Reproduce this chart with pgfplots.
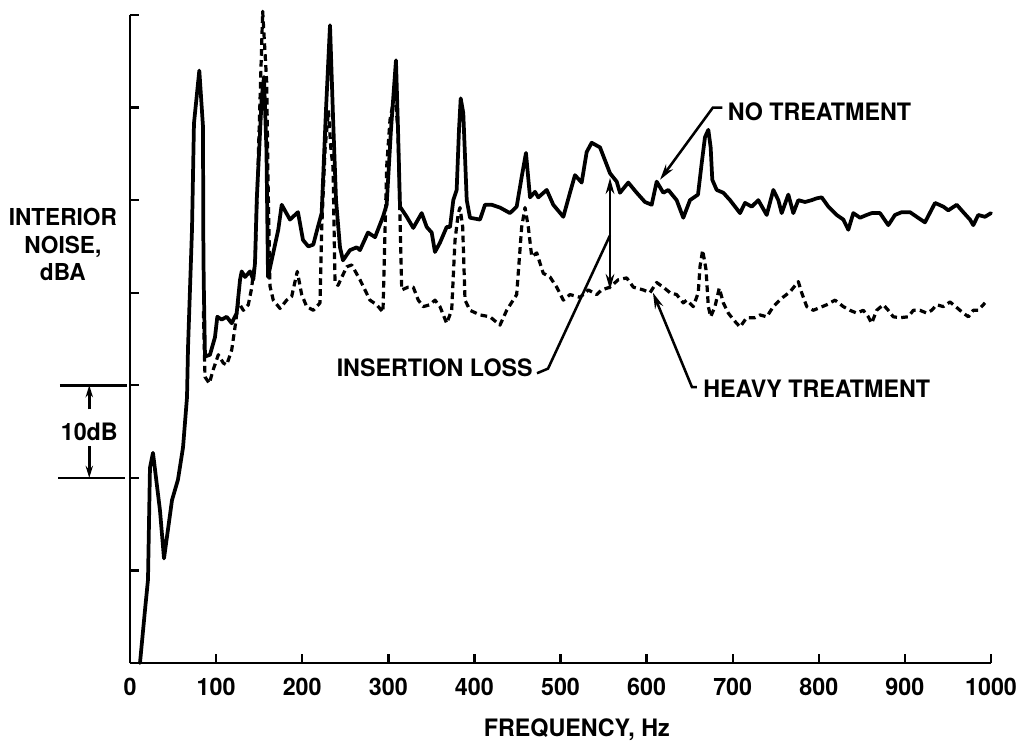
\documentclass[border=0pt]{standalone}
\usepackage{fontspec}
\setmainfont{TeX Gyre Heros}[FakeStretch=0.97]
\usepackage{pgfplots}
\pgfplotsset{compat=1.18}
\usetikzlibrary{arrows.meta}
\newcommand{\lab}{\bfseries\fontsize{18}{21}\selectfont}
\begin{document}
\begin{tikzpicture}
\path[use as bounding box] (-97.5pt,-60pt) rectangle (666pt,497.25pt);
\begin{axis}[
  at={(0,0)}, anchor=south west,
  scale only axis, width=645.75pt, height=486pt,
  xmin=0, xmax=1000, ymin=0, ymax=70, enlargelimits=false,
  axis lines*=left,
  axis line style={line width=2pt},
  tick align=inside,
  major tick length=7pt,
  tick style={line width=1.8pt, black},
  xtick={0,100,...,1000},
  ytick={0,10,...,70},
  yticklabels={},
  /pgf/number format/assume math mode=true,
  /pgf/number format/1000 sep={},
  xticklabel style={font=\lab, anchor=base, yshift=-24pt},
  clip=false,
]
\addplot[black, line width=2.8pt, line join=round, line cap=round] coordinates {
(11.6,0.0)(17.4,5.7)(20.9,9.0)(23.2,21.1)(26.7,22.7)(34.8,16.5)(39.5,11.3)(48.8,17.6)(55.7,19.8)(61.6,23.3)(66.2,28.7)(67.4,34.1)(72.0,46.8)(74.3,58.3)(80.5,64.0)(84.8,57.9)(85.1,46.8)(85.6,41.4)(87.1,33.1)(92.9,33.3)(98.7,35.2)(101.4,37.4)(106.5,37.1)(112.3,37.4)(118.1,36.7)(123.9,37.8)(127.8,41.4)(129.7,42.3)(133.6,41.7)(139.4,42.3)(143.2,41.4)(145.2,43.2)(147.2,50.0)(153.0,61.1)(155.6,63.3)(158.5,55.4)(160.3,41.7)(172.2,46.8)(176.2,49.5)(185.8,47.9)(195.1,48.7)(200.9,45.7)(207.1,45.0)(212.9,45.2)(216.8,46.6)(222.6,48.6)(227.6,59.7)(232.3,68.9)(235.8,59.0)(239.3,50.0)(243.9,44.9)(247.4,43.5)(255.5,44.6)(263.3,44.9)(267.1,44.6)(276.4,46.5)(284.6,46.0)(293.8,48.2)(298.1,49.5)(303.1,57.6)(308.9,65.1)(311.3,57.6)(313.6,49.3)(321.4,48.2)(329.0,47.0)(338.8,48.6)(344.6,47.1)(350.4,46.5)(354.2,44.4)(360.0,45.4)(367.8,47.1)(371.7,47.1)(375.5,50.0)(379.4,51.1)(382.1,57.6)(384.1,61.0)(387.1,59.4)(391.1,50.0)(394.9,48.1)(406.5,47.9)(412.3,49.5)(420.1,49.5)(429.7,49.2)(441.3,48.6)(449.1,49.3)(454.9,52.5)(459.9,55.1)(464.6,50.3)(470.4,50.9)(474.2,50.3)(484.0,51.1)(491.6,49.5)(503.3,48.2)(511.0,50.8)(516.8,52.7)(524.6,51.9)(530.4,55.2)(536.2,56.2)(545.9,55.7)(557.5,52.9)(565.3,52.0)(569.1,50.8)(578.7,51.9)(588.5,50.8)(598.1,49.8)(605.9,49.5)(611.7,52.0)(619.4,50.8)(625.2,51.1)(634.9,50.0)(642.6,48.1)(650.4,50.0)(659.7,50.6)(664.0,54.0)(667.8,56.8)(671.7,57.6)(674.4,55.7)(676.3,52.2)(681.4,51.1)(689.1,50.8)(696.9,50.0)(702.7,49.3)(708.5,48.6)(714.3,49.7)(722.1,49.3)(729.7,50.0)(739.5,48.4)(747.2,51.1)(753.0,50.0)(756.9,48.6)(764.6,50.6)(770.4,48.6)(776.2,50.0)(784.0,49.8)(791.8,50.0)(797.6,50.2)(803.4,50.3)(811.1,49.3)(820.8,48.4)(828.5,47.9)(834.3,46.8)(840.1,48.6)(847.9,48.1)(855.6,48.4)(861.4,48.6)(871.1,48.6)(880.7,47.3)(888.5,48.4)(896.3,48.7)(905.9,48.7)(913.7,48.2)(923.3,47.6)(935.0,49.7)(944.6,49.3)(950.4,48.9)(960.2,49.5)(967.8,48.7)(975.6,47.9)(979.4,47.3)(985.2,48.4)(993.0,48.2)(1000.0,48.6)
};
\addplot[black, line width=2.4pt, line join=round, dash pattern=on 5pt off 3.2pt] coordinates {
(85.3,38.0)(87.1,30.9)(92.1,30.2)(96.7,31.7)(102.6,33.3)(108.4,32.4)(112.3,32.2)(118.1,33.8)(122.0,36.3)(125.8,39.0)(131.6,38.1)(137.4,38.7)(141.3,40.5)(143.2,42.1)(145.2,43.0)(147.5,50.0)(151.0,60.8)(154.1,70.4)(158.8,62.7)(160.3,52.2)(162.6,40.7)(166.4,39.2)(174.2,38.3)(182.0,39.2)(187.8,39.6)(194.3,42.3)(199.4,39.8)(205.2,38.5)(212.9,38.1)(220.7,38.9)(222.6,46.8)(226.5,55.4)(230.5,59.7)(233.4,55.4)(235.8,53.6)(238.1,41.1)(241.6,40.8)(251.7,42.8)(257.5,43.0)(267.1,41.4)(278.7,39.2)(286.5,38.7)(293.8,37.9)(298.1,53.6)(302.0,58.7)(307.8,61.6)(311.3,57.3)(315.6,40.3)(322.9,40.6)(329.0,40.6)(334.8,39.2)(340.6,38.5)(348.4,38.7)(354.2,39.2)(360.0,38.5)(367.8,36.7)(373.6,38.1)(377.5,45.7)(381.3,48.6)(383.3,49.2)(386.4,47.1)(389.1,39.2)(394.9,38.1)(406.5,37.6)(418.1,37.4)(429.7,36.5)(437.5,38.1)(449.1,39.8)(454.9,47.1)(458.8,49.2)(462.6,47.1)(466.6,43.9)(472.4,44.3)(480.0,42.1)(487.8,41.7)(495.6,40.6)(503.3,39.2)(511.0,39.8)(522.6,39.5)(532.3,40.3)(542.0,39.8)(547.8,40.3)(557.5,40.6)(567.1,41.4)(576.9,41.6)(584.6,40.6)(596.2,40.3)(603.9,40.0)(611.7,41.1)(619.4,40.6)(627.2,40.0)(634.9,39.8)(642.6,38.9)(646.5,39.2)(654.2,38.5)(660.0,40.0)(662.0,42.8)(665.1,44.6)(669.0,42.5)(671.7,38.5)(674.4,37.4)(679.4,38.5)(684.4,40.5)(689.1,38.9)(694.9,37.8)(700.7,37.1)(708.5,36.3)(716.2,37.3)(725.9,37.3)(731.7,37.6)(739.5,37.4)(747.2,38.5)(756.9,39.4)(766.6,40.1)(776.2,41.2)(780.1,40.0)(786.0,38.5)(793.6,38.1)(801.4,38.4)(809.2,38.7)(818.8,39.2)(828.5,38.5)(836.2,38.1)(844.0,37.8)(851.7,38.1)(857.5,37.4)(861.4,36.7)(867.2,38.1)(874.9,38.7)(880.7,38.1)(886.5,37.4)(894.3,37.3)(903.9,37.4)(909.8,38.1)(917.5,38.1)(925.3,37.8)(931.1,38.1)(936.9,38.7)(944.6,38.5)(952.4,39.0)(960.2,38.4)(967.8,37.8)(973.7,37.4)(979.4,38.1)(985.2,38.1)(993.0,38.9)
};
% annotations
\tikzset{ann/.style={line width=1.9pt}, ah/.style={-{Stealth[length=12pt,width=6.5pt]}}}
\node[font=\lab, anchor=west, inner sep=0pt] at (axis cs:694,59.5) {NO TREATMENT};
\draw[ann, ah] (axis cs:688,60)--(axis cs:677,60)--(axis cs:615.6,52.2);
\node[font=\lab, anchor=east, inner sep=0pt] at (axis cs:468,31.9) {INSERTION LOSS};
\draw[ann] (axis cs:472.7,31.3)--(axis cs:485.5,31.8)--(axis cs:557.5,46.2);
\draw[ann, {Stealth[length=12pt,width=6.5pt]}-{Stealth[length=12pt,width=6.5pt]}] (axis cs:557.5,52.4)--(axis cs:557.5,40.3);
\node[font=\lab, anchor=west, inner sep=0pt] at (axis cs:665.5,29.6) {HEAVY TREATMENT};
\draw[ann, ah] (axis cs:658.5,29.8)--(axis cs:652.7,29.8)--(axis cs:607.4,40.0);
\node[font=\bfseries\fontsize{17.5}{20.6}\selectfont, align=center, inner sep=0pt] at (axis cs:-78,45.2) {INTERIOR\\NOISE,\\dBA};
\draw[ann] (axis cs:-81.3,30)--(axis cs:-3.5,30);
\draw[ann] (axis cs:-83.6,20)--(axis cs:-5.8,20);
\draw[ann, -{Stealth[length=9pt,width=5.5pt]}] (axis cs:-47.3,27.4)--(axis cs:-47.3,30);
\draw[ann, -{Stealth[length=9pt,width=5.5pt]}] (axis cs:-47.3,23.4)--(axis cs:-47.3,20);
\node[font=\lab, inner sep=0pt] at (axis cs:-47.3,25) {10dB};
\node[font=\lab, anchor=base, inner sep=0pt] at (axis cs:519,-7.9) {FREQUENCY, Hz};
\end{axis}
\end{tikzpicture}
\end{document}
